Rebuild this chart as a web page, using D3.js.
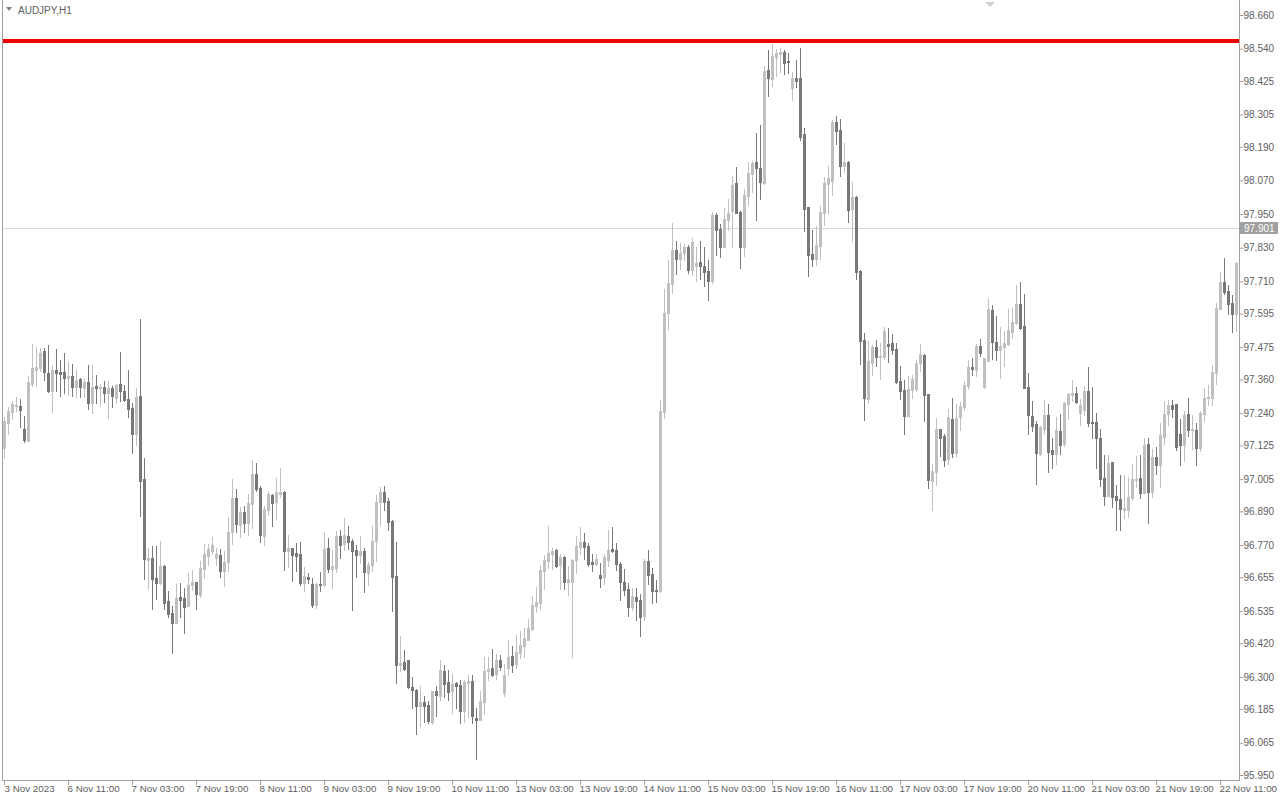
<!DOCTYPE html>
<html><head><meta charset="utf-8">
<script src="https://cdn.jsdelivr.net/npm/d3@7"></script>
<style>body{margin:0;background:#fff;}svg{display:block;font-family:"Liberation Sans",Arial,sans-serif;}</style>
</head><body>
<svg id="chart" width="1280" height="800"></svg>
<script>
const symbolTitle = "AUDJPY,H1";
const open = [97.116,97.205,97.244,97.266,97.266,97.184,97.141,97.344,97.394,97.401,
97.462,97.383,97.319,97.394,97.387,97.387,97.365,97.373,97.333,97.362,
97.330,97.351,97.276,97.337,97.330,97.333,97.312,97.330,97.294,97.344,
97.319,97.291,97.258,97.166,97.301,97.005,96.716,96.723,96.652,96.634,
96.695,96.570,96.527,96.492,96.584,96.581,96.552,96.627,96.638,96.592,
96.684,96.731,96.748,96.723,96.734,96.677,96.709,96.816,96.937,96.841,
96.888,96.848,96.916,97.023,96.973,96.802,96.895,96.948,96.923,96.952,
96.959,96.748,96.759,96.741,96.738,96.634,96.656,96.631,96.556,96.631,
96.627,96.759,96.684,96.688,96.802,96.774,96.802,96.784,96.752,96.734,
96.748,96.670,96.699,96.784,96.923,96.959,96.927,96.855,96.659,96.342,
96.353,96.360,96.263,96.253,96.196,96.210,96.199,96.139,96.249,96.231,
96.321,96.281,96.249,96.278,96.271,96.178,96.278,96.285,96.153,96.146,
96.210,96.321,96.331,96.310,96.360,96.242,96.331,96.374,96.346,96.385,
96.410,96.431,96.470,96.552,96.563,96.677,96.713,96.738,96.752,96.699,
96.727,96.638,96.638,96.716,96.763,96.781,96.766,96.709,96.702,96.663,
96.656,96.716,96.756,96.752,96.702,96.638,96.613,96.549,96.584,96.574,
96.517,96.713,96.666,96.609,96.606,97.244,97.597,97.701,97.822,97.790,
97.811,97.833,97.751,97.765,97.779,97.765,97.747,97.711,97.947,97.897,
97.833,97.929,97.961,98.061,97.957,97.833,98.015,98.093,98.136,98.114,
98.061,98.464,98.432,98.510,98.521,98.528,98.496,98.400,98.435,98.435,
98.236,97.975,97.808,97.790,97.836,97.954,98.057,98.068,98.278,98.250,
98.121,98.136,97.968,98.011,97.747,97.501,97.291,97.419,97.476,97.440,
97.440,97.487,97.490,97.469,97.355,97.323,97.230,97.323,97.326,97.419,
97.448,97.308,96.998,97.030,97.184,97.159,97.077,97.219,97.098,97.227,
97.262,97.337,97.405,97.394,97.480,97.333,97.426,97.608,97.494,97.465,
97.476,97.487,97.530,97.562,97.629,97.551,97.333,97.230,97.201,97.094,
97.184,97.234,97.109,97.094,97.177,97.130,97.273,97.305,97.312,97.241,
97.251,97.319,97.209,97.209,97.152,97.009,96.945,97.066,96.945,96.934,
96.895,96.895,96.937,97.002,97.009,96.955,97.130,96.959,97.084,97.055,
97.155,97.237,97.269,97.273,97.166,97.127,97.237,97.180,97.180,97.116,
97.237,97.294,97.294,97.383,97.612,97.708,97.676,97.633,97.594];
const high = [97.227,97.262,97.284,97.298,97.291,97.230,97.373,97.487,97.476,97.472,
97.472,97.483,97.412,97.469,97.430,97.455,97.423,97.415,97.394,97.365,
97.362,97.412,97.412,97.376,97.344,97.355,97.355,97.337,97.344,97.458,
97.340,97.394,97.276,97.330,97.576,97.080,96.759,96.766,96.766,96.784,
96.699,96.606,96.552,96.631,96.634,96.617,96.670,96.681,96.638,96.713,
96.774,96.774,96.798,96.759,96.756,96.748,96.870,97.005,96.970,96.905,
96.909,96.952,97.073,97.062,96.980,96.909,96.962,96.952,97.009,97.044,
96.962,96.806,96.759,96.777,96.781,96.691,96.670,96.652,96.634,96.674,
96.816,96.795,96.752,96.820,96.823,96.866,96.838,96.791,96.770,96.802,
96.759,96.709,96.838,96.948,96.977,96.980,96.937,96.859,96.781,96.445,
96.395,96.360,96.299,96.256,96.267,96.231,96.214,96.249,96.267,96.360,
96.342,96.324,96.310,96.281,96.288,96.288,96.306,96.306,96.189,96.249,
96.370,96.370,96.399,96.381,96.378,96.346,96.431,96.410,96.449,96.463,
96.474,96.506,96.588,96.620,96.699,96.734,96.838,96.759,96.756,96.738,
96.731,96.695,96.720,96.802,96.834,96.813,96.777,96.738,96.738,96.706,
96.738,96.823,96.834,96.777,96.709,96.684,96.634,96.617,96.617,96.595,
96.720,96.752,96.688,96.645,97.287,97.683,97.786,97.918,97.854,97.847,
97.843,97.840,97.865,97.833,97.854,97.833,97.786,97.957,97.954,97.915,
97.972,98.004,98.086,98.118,97.961,98.039,98.136,98.139,98.239,98.268,
98.478,98.535,98.557,98.539,98.542,98.535,98.525,98.457,98.500,98.542,
98.257,97.975,97.893,97.908,97.979,98.082,98.121,98.286,98.300,98.289,
98.204,98.139,98.064,98.015,97.751,97.526,97.497,97.483,97.501,97.490,
97.547,97.544,97.522,97.490,97.408,97.358,97.373,97.376,97.430,97.487,
97.451,97.308,97.059,97.223,97.184,97.166,97.255,97.294,97.273,97.280,
97.355,97.430,97.437,97.487,97.504,97.437,97.651,97.626,97.587,97.547,
97.533,97.612,97.615,97.697,97.708,97.665,97.383,97.284,97.212,97.194,
97.287,97.273,97.152,97.227,97.237,97.280,97.312,97.358,97.333,97.291,
97.337,97.405,97.333,97.241,97.184,97.091,97.091,97.066,96.984,97.020,
97.020,97.012,97.059,97.087,97.091,97.152,97.152,97.112,97.120,97.205,
97.284,97.287,97.287,97.273,97.219,97.248,97.294,97.234,97.205,97.248,
97.330,97.340,97.412,97.633,97.743,97.793,97.697,97.662,97.779];
const low = [97.080,97.166,97.219,97.248,97.191,97.137,97.141,97.337,97.337,97.390,
97.358,97.316,97.244,97.319,97.301,97.312,97.305,97.301,97.298,97.298,
97.298,97.255,97.241,97.276,97.266,97.280,97.223,97.262,97.276,97.284,
97.284,97.227,97.098,97.127,96.873,96.649,96.613,96.542,96.577,96.631,
96.542,96.513,96.385,96.492,96.513,96.456,96.552,96.609,96.542,96.584,
96.652,96.699,96.738,96.699,96.656,96.624,96.677,96.774,96.816,96.798,
96.816,96.806,96.830,96.962,96.781,96.770,96.877,96.838,96.863,96.941,
96.681,96.691,96.641,96.677,96.627,96.606,96.634,96.549,96.545,96.606,
96.624,96.674,96.617,96.674,96.723,96.752,96.756,96.538,96.656,96.706,
96.602,96.627,96.677,96.713,96.841,96.895,96.823,96.534,96.278,96.321,
96.324,96.260,96.189,96.096,96.124,96.139,96.135,96.132,96.160,96.217,
96.228,96.217,96.171,96.189,96.135,96.139,96.157,96.135,96.007,96.146,
96.167,96.288,96.303,96.292,96.324,96.231,96.306,96.317,96.331,96.367,
96.370,96.431,96.467,96.531,96.542,96.613,96.688,96.684,96.691,96.613,
96.613,96.592,96.370,96.670,96.738,96.720,96.695,96.677,96.699,96.620,
96.631,96.695,96.745,96.681,96.574,96.592,96.517,96.538,96.502,96.445,
96.502,96.631,96.563,96.567,96.602,97.223,97.540,97.669,97.736,97.754,
97.786,97.740,97.733,97.711,97.719,97.694,97.644,97.704,97.804,97.797,
97.833,97.893,97.833,97.954,97.758,97.801,97.982,98.029,97.929,98.004,
98.057,98.371,98.407,98.443,98.457,98.450,98.453,98.357,98.403,98.214,
97.890,97.729,97.765,97.768,97.790,97.911,97.950,98.018,98.200,98.086,
98.100,97.922,97.854,97.719,97.415,97.216,97.276,97.376,97.408,97.362,
97.433,97.423,97.451,97.348,97.291,97.166,97.230,97.294,97.319,97.390,
97.212,96.973,96.895,96.984,97.087,97.052,97.059,97.084,97.087,97.180,
97.251,97.326,97.376,97.373,97.444,97.330,97.426,97.433,97.430,97.365,
97.408,97.483,97.508,97.558,97.540,97.330,97.166,97.177,96.987,97.091,
97.169,97.030,97.044,97.059,97.094,97.123,97.219,97.284,97.276,97.198,
97.234,97.194,97.152,97.044,96.980,96.913,96.945,96.905,96.823,96.823,
96.866,96.870,96.930,96.977,96.937,96.955,96.848,96.941,97.023,96.977,
97.130,97.198,97.227,97.109,97.055,97.070,97.159,97.112,97.055,97.105,
97.212,97.269,97.269,97.344,97.612,97.665,97.594,97.530,97.533];
const close = [97.212,97.248,97.273,97.269,97.251,97.144,97.351,97.401,97.405,97.455,
97.387,97.319,97.394,97.383,97.380,97.365,97.373,97.333,97.358,97.333,
97.351,97.276,97.333,97.330,97.333,97.312,97.330,97.301,97.340,97.319,
97.287,97.255,97.166,97.298,96.998,96.720,96.723,96.649,96.634,96.695,
96.563,96.524,96.492,96.581,96.574,96.549,96.627,96.638,96.595,96.688,
96.738,96.756,96.770,96.738,96.677,96.709,96.816,96.937,96.845,96.888,
96.848,96.920,97.023,96.970,96.806,96.898,96.952,96.920,96.959,96.959,
96.748,96.759,96.734,96.731,96.634,96.659,96.649,96.556,96.631,96.627,
96.756,96.684,96.695,96.802,96.770,96.806,96.781,96.748,96.734,96.748,
96.674,96.699,96.784,96.923,96.959,96.923,96.852,96.656,96.342,96.349,
96.328,96.263,96.253,96.196,96.210,96.196,96.142,96.249,96.235,96.324,
96.274,96.246,96.274,96.267,96.178,96.281,96.285,96.160,96.146,96.214,
96.321,96.328,96.306,96.360,96.335,96.306,96.370,96.342,96.388,96.413,
96.438,96.474,96.556,96.567,96.681,96.716,96.741,96.748,96.695,96.727,
96.638,96.649,96.716,96.766,96.781,96.763,96.702,96.702,96.720,96.652,
96.727,96.752,96.748,96.702,96.638,96.609,96.549,96.588,96.570,96.513,
96.713,96.663,96.606,96.606,97.248,97.597,97.704,97.822,97.790,97.811,
97.833,97.751,97.850,97.776,97.765,97.743,97.711,97.947,97.893,97.833,
97.932,97.954,98.054,97.954,97.833,98.018,98.097,98.132,98.114,98.064,
98.460,98.435,98.514,98.525,98.528,98.489,98.492,98.435,98.425,98.225,
97.968,97.804,97.790,97.840,97.957,98.061,98.079,98.278,98.246,98.121,
98.136,97.965,98.011,97.743,97.497,97.294,97.426,97.476,97.440,97.444,
97.533,97.480,97.465,97.351,97.319,97.230,97.326,97.362,97.419,97.451,
97.305,97.002,97.034,97.184,97.152,97.073,97.227,97.098,97.223,97.266,
97.340,97.405,97.398,97.480,97.455,97.437,97.611,97.494,97.465,97.480,
97.490,97.537,97.565,97.629,97.544,97.330,97.234,97.194,97.098,97.191,
97.234,97.102,97.094,97.180,97.127,97.276,97.308,97.312,97.280,97.269,
97.319,97.205,97.205,97.152,97.005,96.945,97.062,96.941,96.930,96.898,
96.902,96.941,97.005,97.005,96.955,97.127,96.959,97.084,97.055,97.162,
97.237,97.269,97.255,97.120,97.127,97.234,97.180,97.184,97.116,97.241,
97.294,97.298,97.387,97.615,97.708,97.672,97.629,97.594,97.776];
const yTickValues = [98.660,98.540,98.425,98.305,98.190,98.070,97.950,97.830,97.710,97.595,97.475,97.360,97.240,97.125,97.005,96.890,96.770,96.655,96.535,96.420,96.300,96.185,96.065,95.950];
const xTickBars = [0,16,32,48,64,80,96,112,128,144,160,176,192,208,224,240,256,272,288,304];
const xTickLabels = ["3 Nov 2023","6 Nov 11:00","7 Nov 03:00","7 Nov 19:00","8 Nov 11:00","9 Nov 03:00","9 Nov 19:00","10 Nov 11:00","13 Nov 03:00","13 Nov 19:00","14 Nov 11:00","15 Nov 03:00","15 Nov 19:00","16 Nov 11:00","17 Nov 03:00","17 Nov 19:00","20 Nov 11:00","21 Nov 03:00","21 Nov 19:00","22 Nov 11:00"];
const currentPrice = 97.901;
const levelPrice = 98.567;
const yDomain = [95.95, 98.66];

const n = open.length;
const svg = d3.select("#chart");
const left = 2, right = 1239, bottom = 780;
const x = d3.scaleBand().domain(d3.range(n)).range([left, left + 4 * n]).padding(0);
const y = d3.scaleLinear().domain(yDomain).range([775, 15]);
const cx = i => Math.round(x(i) + x.bandwidth() / 2);

// frame
svg.append("rect").attr("x", 0).attr("y", 0).attr("width", 1280).attr("height", 800).attr("fill", "#fff");
svg.append("line").attr("x1", left + 0.5).attr("x2", left + 0.5).attr("y1", 0).attr("y2", bottom).attr("stroke", "#a0a0a0");
svg.append("line").attr("x1", right + 0.5).attr("x2", right + 0.5).attr("y1", 0).attr("y2", bottom + 1).attr("stroke", "#a0a0a0");
svg.append("line").attr("x1", left).attr("x2", right + 1).attr("y1", bottom + 0.5).attr("y2", bottom + 0.5).attr("stroke", "#a0a0a0");

// current price line
const cpY = Math.round(y(currentPrice)) + 0.5;
svg.append("line").attr("x1", left + 1).attr("x2", right).attr("y1", cpY).attr("y2", cpY).attr("stroke", "#d8d8d8");

// candles
const idx = d3.range(n);
const colorOf = i => close[i] >= open[i] ? "#c0c0c0" : "#787878";
const g = svg.append("g");
g.selectAll("rect.wick").data(idx).join("rect").attr("class", "wick")
  .attr("x", i => cx(i)).attr("width", 1)
  .attr("y", i => Math.round(y(high[i])))
  .attr("height", i => Math.max(1, Math.round(y(low[i])) - Math.round(y(high[i])) + 1))
  .attr("fill", colorOf);
g.selectAll("rect.body").data(idx).join("rect").attr("class", "body")
  .attr("x", i => cx(i) - 1).attr("width", 3)
  .attr("y", i => Math.round(y(Math.max(open[i], close[i]))))
  .attr("height", i => Math.max(1, Math.round(y(Math.min(open[i], close[i]))) - Math.round(y(Math.max(open[i], close[i]))) + 1))
  .attr("fill", colorOf);

// red level line
svg.append("line").attr("x1", left + 1).attr("x2", right).attr("y1", y(levelPrice)).attr("y2", y(levelPrice))
  .attr("stroke", "#ee0000").attr("stroke-width", 4);

// y axis
const yAxis = svg.append("g").attr("transform", `translate(${right + 0.5},0)`)
  .call(d3.axisRight(y).tickValues(yTickValues).tickFormat(d3.format(".3f")).tickSize(4).tickSizeOuter(0));
yAxis.select(".domain").remove();
yAxis.selectAll(".tick line").attr("stroke", "#a0a0a0");
yAxis.selectAll(".tick text").attr("x", 4).attr("fill", "#606060").style("font-size", "10px").style("font-family", "'Liberation Sans',Arial,sans-serif");

// price label
const pl = svg.append("g").attr("transform", `translate(${right + 1},${Math.round(y(currentPrice))})`);
pl.append("rect").attr("x", 0).attr("y", -6).attr("width", 38).attr("height", 12).attr("fill", "#a0a0a0");
pl.append("text").attr("x", 4).attr("y", 0).attr("dy", "0.35em").attr("fill", "#fff").style("font-size", "10px").text(d3.format(".3f")(currentPrice));

// x axis
const xg = svg.append("g");
xTickBars.forEach((b, k) => {
  const px = cx(b) + 0.5;
  xg.append("line").attr("x1", px).attr("x2", px).attr("y1", bottom).attr("y2", bottom + 5).attr("stroke", "#a0a0a0");
  xg.append("text").attr("x", px + (k === 0 ? 0 : -1)).attr("y", bottom + 12).attr("fill", "#606060")
    .style("font-size", "9.8px").text(xTickLabels[k]);
});

// title
svg.append("path").attr("d", "M6,7 L12,7 L9,11 Z").attr("fill", "#808080");
svg.append("text").attr("x", 18).attr("y", 14).attr("fill", "#606060").style("font-size", "10px").text(symbolTitle);
// shift marker
svg.append("path").attr("d", "M985,2 L995,2 L990,7 Z").attr("fill", "#d0d0d0");
</script>
</body></html>
